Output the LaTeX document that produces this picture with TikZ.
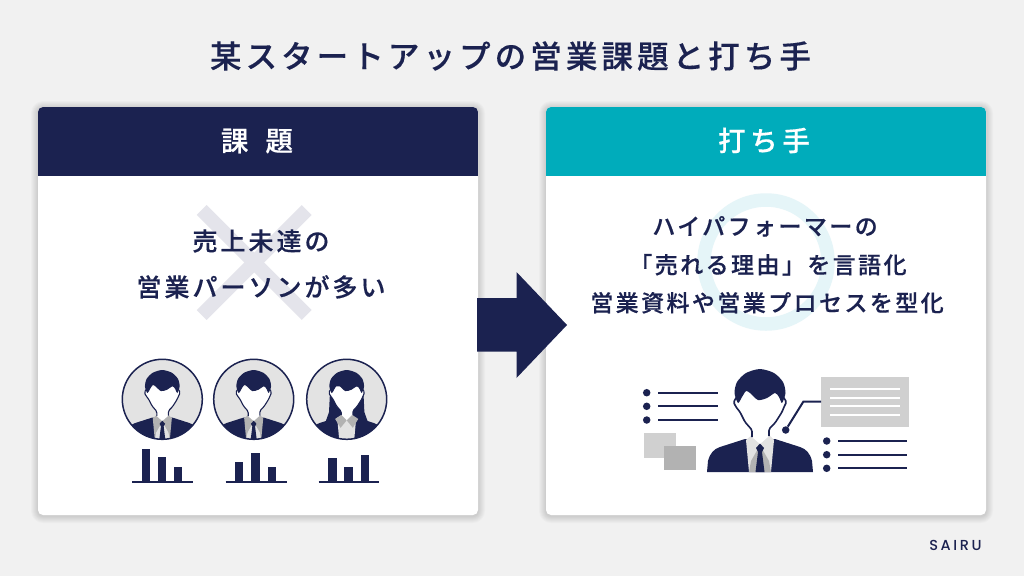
\documentclass[tikz,border=0pt]{standalone}
\usepackage{fontspec}
\setmainfont[FakeBold=0.4]{Noto Sans CJK JP Medium}
\newfontfamily\logofont{Poppins Medium}
\definecolor{navy}{RGB}{27,34,80}
\definecolor{teal}{RGB}{0,172,187}
\definecolor{paper}{RGB}{241,241,241}
\definecolor{ringtint}{RGB}{229,245,248}
\definecolor{crosstint}{RGB}{228,228,235}
\definecolor{discgray}{RGB}{227,227,227}
\definecolor{boxgray}{RGB}{208,208,208}
\definecolor{boxdark}{RGB}{178,178,178}
\definecolor{shirtlight}{RGB}{226,226,226}
\tikzset{
  x=1pt,y=-1pt,
  headline/.style={text=white,font=\fontsize{27.5}{30}\selectfont\addfontfeature{LetterSpace=17},anchor=base},
  bodyleft/.style={text=navy,font=\fontsize{25}{30}\selectfont\addfontfeature{LetterSpace=12},anchor=base},
  bodyright/.style={text=navy,font=\fontsize{23}{30}\selectfont\addfontfeature{LetterSpace=10.5},anchor=base},
  bullet/.style={circle,fill=navy,draw=none,inner sep=0,minimum size=7.5pt},
  rulerline/.style={draw=navy,line width=2pt},
  whiterule/.style={draw=white,line width=1.8pt},
  bar/.style={fill=navy,draw=none},
  baseline rule/.style={draw=navy,line width=2pt},
  card/.style={fill=white,rounded corners=5pt},
}
% soft shadow under a card: stacked translucent outlines
\newcommand{\cardshadow}[4]{%
  \foreach \g in {1,...,7}{
    \fill[black,opacity=.02,rounded corners=5pt+\g pt]
      (#1-\g,#2-\g+1) rectangle (#3+\g,#4+\g+1);
  }%
}
% shoulders of a bust; origin at the top of the hair
\newcommand{\bustbody}{%
  \fill[navy] (-53,103) -- (-52,92) .. controls (-50,84) and (-46,80) .. (-40,78)
    -- (-15,70) -- (15,70) -- (40,78) .. controls (46,80) and (50,84) .. (52,92) -- (53,103) -- cycle;
}
% white face and neck with side outlines, hair on top; #1 = stroke width
\newcommand{\bustface}[1]{%
  \fill[white] (-22,24) -- (-26.5,33) -- (-24,38) -- (-20,43) -- (-15,53) -- (-8,61) -- (-8,68) -- (0,75)
    -- (9,67) -- (9,60) -- (15,54) -- (22,43) -- (24,38) -- (26.5,33) -- (22,24) -- cycle;
  \draw[navy,line width=#1pt,rounded corners=1.5pt,line join=round]
    (-22,26) -- (-26.5,33) -- (-24,38) -- (-20,43) -- (-15,53) -- (-8,61) -- (-8,68);
  \draw[navy,line width=#1pt,rounded corners=1.5pt,line join=round]
    (22,26) -- (26.5,33) -- (24,38) -- (22,43) -- (15,54) -- (9,60) -- (9,67);
  \fill[navy] plot[smooth cycle,tension=.45] coordinates {
    (0,0) (-14,4) (-23,13) (-25.5,24) (-22,34) (-18,28) (-14,22) (-10,24) (-2,31)
    (7,29) (15,24) (19,28) (22,34) (25.5,24) (23,13) (14,4)};
}
% a man in suit and tie: #1 shirt colour, #2 inner wedge colour, #3 stroke width
\newcommand{\manfigure}[3]{%
  \bustbody
  \fill[#1] (-14,71) -- (-8,66) -- (9,66) -- (14,71) -- (11,103) -- (-11,103) -- cycle;
  \fill[#2] (-11,103) -- (-9,92) -- (-1,78) -- (1,78) -- (9,92) -- (11,103) -- cycle;
  \bustface{#3}
  \fill[navy] (0,74.5) -- (4,79) -- (2,83) -- (4.5,103) -- (-4.5,103) -- (-2,83) -- (-4,79) -- cycle;
}
% a woman with long hair and an open collar
\newcommand{\womanfigure}{%
  \bustbody
  \fill[navy] (-24,20) -- (-26,62) -- (-31,76) -- (-8,72) -- (8,72) -- (31,76) -- (26,62) -- (24,20) -- cycle;
  \fill[shirtlight] (-14,70) -- (14,70) -- (11,103) -- (-11,103) -- cycle;
  \bustface{1.1}
  \fill[boxdark] (-17,72) -- (-8,66) -- (0,74) -- (-9,85) -- cycle;
  \fill[boxdark] (17,72) -- (8,66) -- (0,74) -- (9,85) -- cycle;
}
\begin{document}
\begin{tikzpicture}
\useasboundingbox (0,0) rectangle (1024,576);
\fill[paper] (0,0) rectangle (1024,576);

\node[text=navy,font=\fontsize{31.5}{36}\selectfont\addfontfeature{LetterSpace=13},anchor=base] (title) at (510.5,68) {某スタートアップの営業課題と打ち手};

% cards
\cardshadow{38}{107}{478}{515}
\cardshadow{546}{107}{986}{515}
\fill[card] (38,107) rectangle (478,515);
\fill[card] (546,107) rectangle (986,515);
\begin{scope}
  \clip[rounded corners=5pt] (38,107) rectangle (478,515);
  \fill[navy] (38,107) rectangle (478,176);
\end{scope}
\begin{scope}
  \clip[rounded corners=5pt] (546,107) rectangle (986,515);
  \fill[teal] (546,107) rectangle (986,176);
\end{scope}
\node[headline] (issuehead) at (257,151) {課\hspace{17pt}題};
\node[headline] (actionhead) at (764,151) {打ち手};

% pale marks behind the card texts
\draw[crosstint,line width=14pt] (201.7,210) -- (306.7,315);
\draw[crosstint,line width=14pt] (306.7,210) -- (201.7,315);
\draw[ringtint,line width=13.5pt] (766,262) circle[radius=62];

\node[bodyleft] (issue1) at (261,250.5) {売上未達の};
\node[bodyleft] (issue2) at (261,296.5) {営業パーソンが多い};
\node[bodyright] (action1) at (765,235) {ハイパフォーマーの};
\node[bodyright] (action2) at (768,273.5) {「売れる理由」を言語化};
\node[bodyright] (action3) at (767,311.5) {営業資料や営業プロセスを型化};

% block arrow between the cards
\fill[navy] (477,298) -- (516.5,298) -- (516.5,272) -- (567,325) -- (516.5,378) -- (516.5,351.5) -- (477,351.5) -- cycle;

% three portraits in discs
\foreach \cx/\fig in {162.3/1,253.7/2,346.7/3}{
  \fill[discgray] (\cx,399.3) circle[radius=40];
  \begin{scope}
    \clip (\cx,399.3) circle[radius=40];
    \begin{scope}[shift={(\cx,370)},scale=.68]
      \ifnum\fig=3 \womanfigure \else \manfigure{boxdark}{shirtlight}{1.1} \fi
    \end{scope}
  \end{scope}
  \draw[navy,line width=1.5pt] (\cx,399.3) circle[radius=40];
}

% bar charts under the portraits
\foreach \a/\b/\t in {141.7/150/449.3,157.7/166/457.3,174/182.3/466.7,
                      235/243.3/461.7,251.3/259.7/453.3,267.7/276/466.7,
                      328.3/336.7/458.3,344.3/352.7/467.3,360.7/369/455.3}{
  \fill[bar] (\a,\t) rectangle (\b,482);
}
\draw[baseline rule] (132.3,482) -- (192.7,482);
\draw[baseline rule] (225.7,482) -- (286.7,482);
\draw[baseline rule] (318.7,482) -- (379.3,482);

% presenter with notes
\begin{scope}[shift={(760,369)}]
  \manfigure{shirtlight}{boxdark}{1.6}
\end{scope}

\foreach \n/\y in {a/392.7,b/406.3,c/420}{
  \node[bullet] (left\n) at (646.7,\y) {};
  \draw[rulerline] (658.3,\y) -- (717.7,\y);
}
\foreach \n/\y in {a/441,b/454.7,c/468.3}{
  \node[bullet] (right\n) at (826.7,\y) {};
  \draw[rulerline] (838.3,\y) -- (907.3,\y);
}
\fill[boxgray] (644.3,433.3) rectangle (676,457.7);
\fill[boxdark] (664.3,446) rectangle (696,470);

\node[fill=boxgray,draw=none,inner sep=0,minimum width=87.4pt,minimum height=50pt] (notebox) at (865,401.7) {};
\foreach \y in {389,397.7,406.3,415}{
  \draw[whiterule] (830,\y) -- (900,\y);
}
\node[bullet] (notedot) at (785.7,430) {};
\coordinate (elbow) at (803.3,401.7);
\draw[navy,line width=2pt] (notebox.west) -- (elbow) -- (notedot);

\node[text=navy,font=\logofont\fontsize{14.5}{16}\selectfont\addfontfeature{LetterSpace=18},anchor=base] (logo) at (955.5,550) {SAIRU};
\end{tikzpicture}
\end{document}
